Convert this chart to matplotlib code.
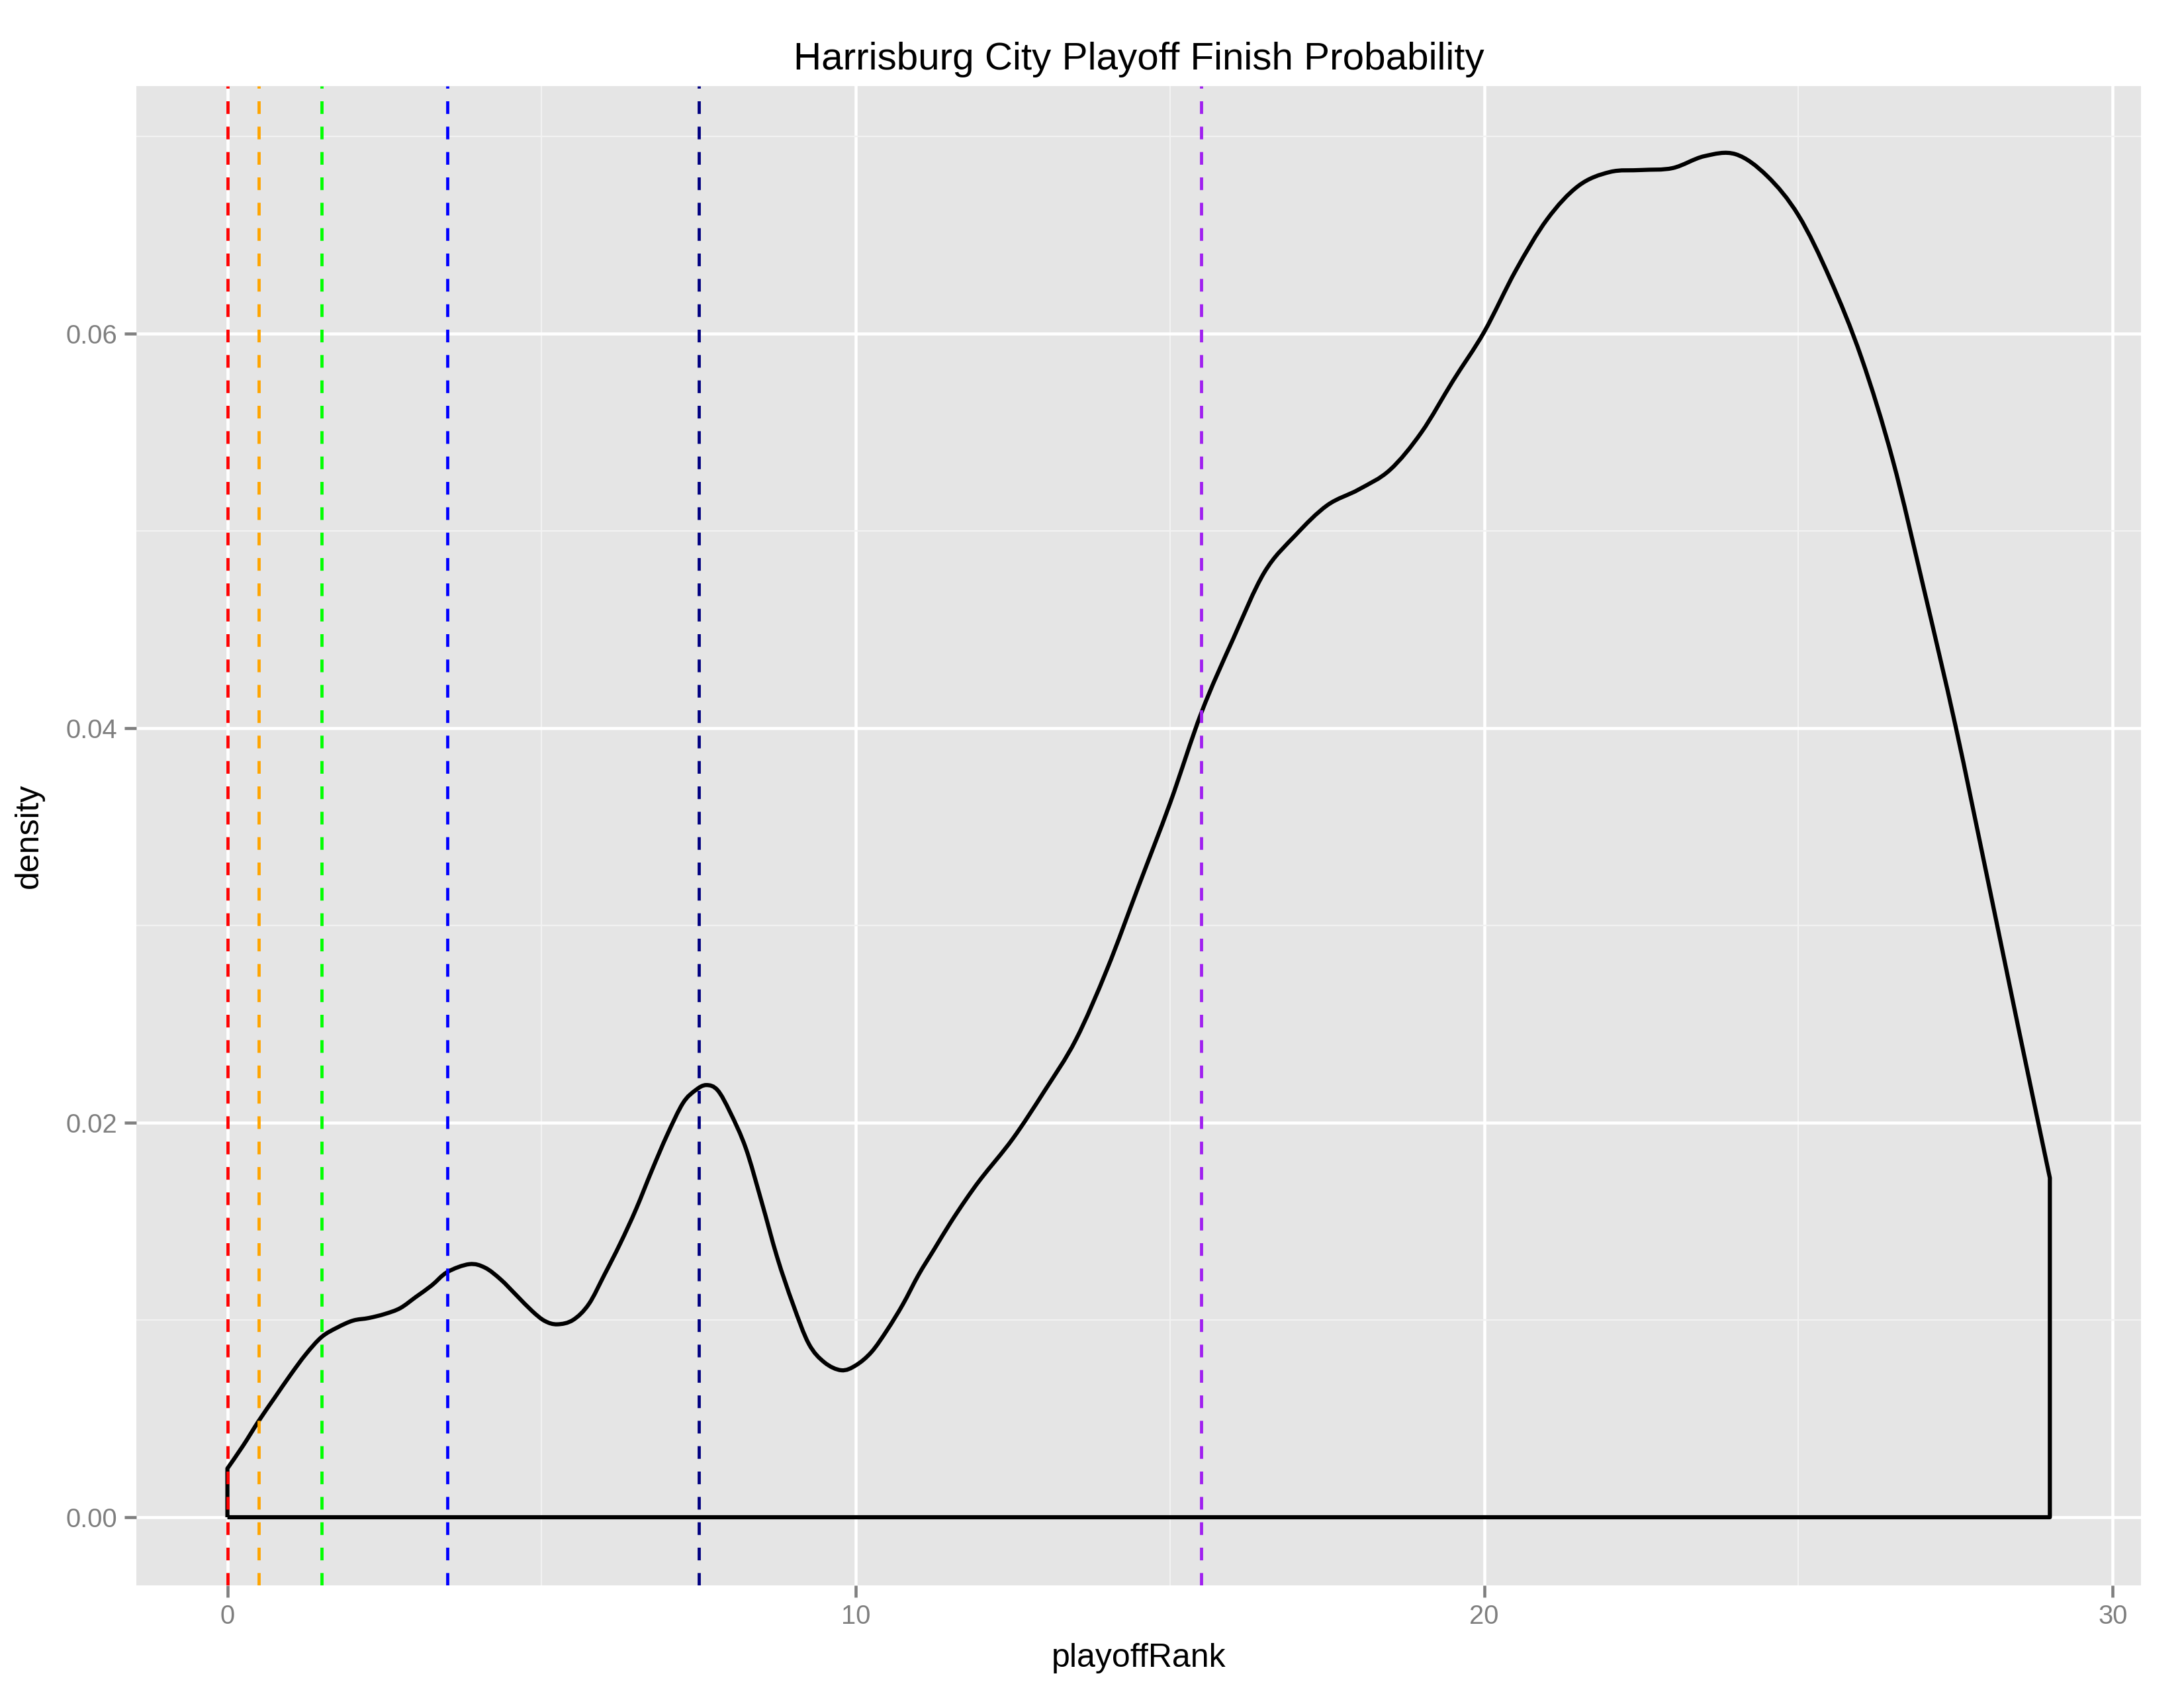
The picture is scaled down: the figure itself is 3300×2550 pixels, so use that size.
import matplotlib
matplotlib.use("Agg")
import matplotlib.pyplot as plt
from matplotlib.path import Path
from matplotlib.patches import PathPatch

plt.rcParams['font.family'] = ['Liberation Sans', 'DejaVu Sans']

# density values
rank = [0, 0.25, 0.5, 0.75, 1, 1.25, 1.5, 1.75, 2, 2.25, 2.5, 2.75, 3, 3.25, 3.5,
        3.85, 4.1, 4.35, 4.6, 4.85, 5.05, 5.25, 5.5, 5.75, 6, 6.25, 6.5, 6.75,
        7, 7.25, 7.45, 7.62, 7.8, 8, 8.25, 8.5, 8.75, 9, 9.25, 9.5, 9.77,
        10, 10.25, 10.5, 10.75, 11, 11.25, 11.5, 11.75, 12, 12.5, 13, 13.5, 14,
        14.5, 15, 15.5, 16, 16.5, 17, 17.5, 18, 18.5, 19, 19.5, 20, 20.5, 21,
        21.5, 22, 22.5, 23, 23.5, 24, 24.5, 25, 25.5, 26, 26.5, 27, 27.5, 28,
        28.5, 29]
density = [0.00247, 0.00363, 0.00489, 0.00605, 0.0072, 0.00827, 0.00914, 0.00962,
           0.00997, 0.0101, 0.0103, 0.0106, 0.01117, 0.01175, 0.01243,
           0.01283, 0.01265, 0.01205, 0.01125, 0.01045, 0.00995, 0.00978,
           0.0100, 0.0108, 0.0123, 0.01387, 0.0156, 0.01755,
           0.0194, 0.0210, 0.02165, 0.02191, 0.02165, 0.02053, 0.0187, 0.0160,
           0.01316, 0.0108, 0.0088, 0.00785, 0.00745,
           0.00770, 0.00838, 0.00950, 0.0108, 0.0123, 0.0136, 0.0149, 0.0161,
           0.0172, 0.0192, 0.0216, 0.0242, 0.0278,
           0.0320, 0.0362, 0.0408, 0.0445, 0.0479, 0.0498, 0.0513, 0.0521,
           0.0531, 0.0550, 0.0576, 0.0601, 0.0632, 0.0658,
           0.0675, 0.0682, 0.0683, 0.0684, 0.0690, 0.0691, 0.0680, 0.0660,
           0.0628, 0.0588, 0.0536, 0.0470, 0.0401, 0.0325,
           0.0248, 0.0172]

vline_x = [0, 0.5, 1.5, 3.5, 7.5, 15.5]
vline_colors = ['#FF0000', '#FFA500', '#00FF00', '#0000FF', '#000080', '#A020F0']

x_ticks = [0, 10, 20, 30]
y_ticks = [0.00, 0.02, 0.04, 0.06]
y_tick_labels = ['0.00', '0.02', '0.04', '0.06']


def smooth_outline(xs, ys):
    """Closed outline: baseline, then a smooth Bezier path through the points."""
    verts = [(xs[0], 0.0), (xs[0], ys[0])]
    codes = [Path.MOVETO, Path.LINETO]
    n = len(xs)
    for i in range(n - 1):
        x0, y0 = (xs[i - 1], ys[i - 1]) if i > 0 else (xs[i], ys[i])
        x1, y1 = xs[i], ys[i]
        x2, y2 = xs[i + 1], ys[i + 1]
        x3, y3 = (xs[i + 2], ys[i + 2]) if i + 2 < n else (xs[i + 1], ys[i + 1])
        c1 = (x1 + (x2 - x0) / 6.0, y1 + (y2 - y0) / 6.0)
        c2 = (x2 - (x3 - x1) / 6.0, y2 - (y3 - y1) / 6.0)
        verts += [c1, c2, (x2, y2)]
        codes += [Path.CURVE4] * 3
    verts += [(xs[-1], 0.0), (xs[0], 0.0)]
    codes += [Path.LINETO, Path.LINETO]
    return Path(verts, codes)


fig = plt.figure(figsize=(11, 8.5), dpi=300)
ax = fig.add_axes([0.0624, 0.0608, 0.9179, 0.8882])
ax.set_facecolor('#E5E5E5')

ax.add_patch(PathPatch(smooth_outline(rank, density), facecolor='none',
                       edgecolor='black', lw=1.5, joinstyle='round', zorder=3))

for xv, c in zip(vline_x, vline_colors):
    ax.axvline(xv, color=c, lw=1.15, dashes=(4, 4), zorder=4)

xmin, xmax = min(rank), max(rank)
dx = (xmax - xmin) * 0.05
ymax = max(density)
dy = ymax * 0.05
ax.set_xlim(xmin - dx, xmax + dx)
ax.set_ylim(-dy, ymax + dy)

ax.set_xticks(x_ticks)
ax.set_xticks([5, 15, 25], minor=True)
ax.set_yticks(y_ticks)
ax.set_yticklabels(y_tick_labels)
ax.set_yticks([0.01, 0.03, 0.05, 0.07], minor=True)

ax.grid(which='major', color='white', lw=1.1, zorder=0)
ax.grid(which='minor', color='#F2F2F2', lw=0.55, zorder=0)
ax.set_axisbelow(True)

for s in ax.spines.values():
    s.set_visible(False)

ax.tick_params(which='major', length=4.3, width=1.1, color='#7F7F7F',
               labelcolor='#7F7F7F', labelsize=9.6, pad=2.5)
ax.tick_params(which='minor', length=0)

ax.set_xlabel('playoffRank', fontsize=12, color='black', labelpad=5)
ax.set_ylabel('density', fontsize=12, color='black', labelpad=8)
ax.set_title('Harrisburg City Playoff Finish Probability', fontsize=14,
             color='black', pad=6)

fig.savefig('out.png', dpi=300, facecolor='white')
